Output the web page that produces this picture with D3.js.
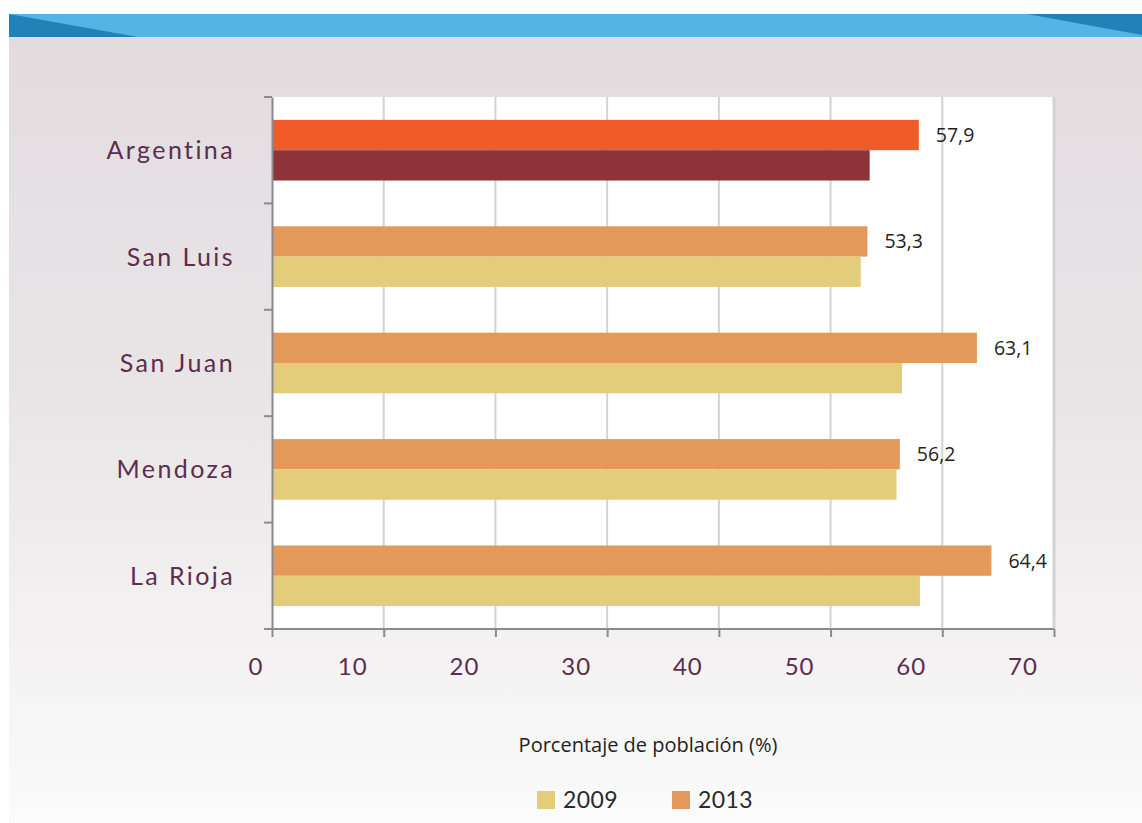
<!DOCTYPE html>
<html lang="es">
<head>
<meta charset="utf-8">
<title>Porcentaje de población</title>
<script src="https://cdn.jsdelivr.net/npm/d3@7"></script>
<style>
  html, body { margin: 0; padding: 0; background: #ffffff; }
  svg { display: block; }
</style>
</head>
<body>
<svg id="chart" width="1142" height="823"></svg>
<script>
// Data
const categories = ["Argentina", "San Luis", "San Juan", "Mendoza", "La Rioja"];
const series = ["2013", "2009"];
const values2013 = [57.9, 53.3, 63.1, 56.2, 64.4];
const values2009 = [53.5, 52.7, 56.4, 55.9, 58.0];
const xTicks = [0, 10, 20, 30, 40, 50, 60, 70];
const axisTitle = "Porcentaje de población (%)";
const legendItems = ["2009", "2013"];

const rows = categories.map((c, i) => ({
  category: c,
  values: { "2013": values2013[i], "2009": values2009[i] }
}));

const colors = {
  national: { "2013": "#f15a29", "2009": "#8e3337" },
  province: { "2013": "#e2995a", "2009": "#e3cc7a" }
};

const svg = d3.select("#chart");
const W = 1142, H = 823;

// Background panel with soft vertical gradient
const defs = svg.append("defs");
const grad = defs.append("linearGradient").attr("id", "panelGrad")
  .attr("x1", 0).attr("y1", 0).attr("x2", 0).attr("y2", 1);
grad.append("stop").attr("offset", "0%").attr("stop-color", "#e2dcdf");
grad.append("stop").attr("offset", "45%").attr("stop-color", "#e9e5e7");
grad.append("stop").attr("offset", "100%").attr("stop-color", "#fbfbfb");

svg.append("rect").attr("x", 9).attr("y", 37).attr("width", W - 9).attr("height", H - 37)
  .attr("fill", "url(#panelGrad)");

// Header band
svg.append("rect").attr("x", 9).attr("y", 14).attr("width", W - 9).attr("height", 23).attr("fill", "#52b5e6");
svg.append("path").attr("d", "M9,14 L138,37 L9,37 Z").attr("fill", "#2282b8");
svg.append("path").attr("d", `M1027,14 L${W},14 L${W},35 Z`).attr("fill", "#2282b8");

// Plot area
const plot = { left: 272, right: 1054, top: 97, bottom: 629 };

const x = d3.scaleLinear().domain([0, 70]).range([plot.left, plot.right]);
const y = d3.scaleBand().domain(categories).range([plot.top, plot.bottom]).padding(0);
const ySub = d3.scaleBand().domain(series)
  .range([y.bandwidth() * 0.215, y.bandwidth() * 0.785]).padding(0);

svg.append("rect")
  .attr("x", plot.left).attr("y", plot.top)
  .attr("width", plot.right - plot.left).attr("height", plot.bottom - plot.top)
  .attr("fill", "#ffffff");

// Vertical gridlines
svg.append("g").selectAll("line").data(xTicks.filter(t => t > 0)).join("line")
  .attr("x1", d => x(d)).attr("x2", d => x(d))
  .attr("y1", plot.top).attr("y2", plot.bottom)
  .attr("stroke", "#d3d3d6").attr("stroke-width", d => d === 70 ? 3 : 2);

// Bars
const groups = svg.append("g").selectAll("g").data(rows).join("g")
  .attr("transform", d => `translate(0,${y(d.category)})`);

groups.selectAll("rect").data(d => series.map(s => ({
  s, v: d.values[s], national: d.category === "Argentina"
}))).join("rect")
  .attr("x", x(0))
  .attr("y", d => ySub(d.s))
  .attr("width", d => x(d.v) - x(0))
  .attr("height", ySub.bandwidth())
  .attr("fill", d => (d.national ? colors.national : colors.province)[d.s]);

// Value labels for 2013
groups.append("text")
  .attr("x", d => x(d.values["2013"]) + 17)
  .attr("y", ySub("2013") + ySub.bandwidth() / 2)
  .attr("dy", "0.36em")
  .attr("font-family", "'Open Sans', 'Liberation Sans', sans-serif")
  .attr("font-size", 19.5)
  .attr("fill", "#231f20")
  .text(d => d3.format(".1f")(d.values["2013"]).replace(".", ","));

// Left axis
const yAxis = d3.axisLeft(y).tickSize(0).tickFormat("");
const gy = svg.append("g").attr("transform", `translate(${plot.left},0)`).call(yAxis);
gy.select(".domain").attr("stroke", "#8a8a90").attr("stroke-width", 2);
const boundaries = categories.map(c => y(c)).concat([plot.bottom]);
gy.selectAll(".bnd").data(boundaries).join("line").attr("class", "bnd")
  .attr("x1", -8).attr("x2", 0).attr("y1", d => d).attr("y2", d => d)
  .attr("stroke", "#8a8a90").attr("stroke-width", 2);

// Category labels
svg.append("g").selectAll("text").data(categories).join("text")
  .attr("x", 235)
  .attr("y", d => y(d) + y.bandwidth() / 2)
  .attr("dy", "0.36em")
  .attr("text-anchor", "end")
  .attr("font-family", "Lato, 'Noto Sans', sans-serif")
  .attr("font-weight", 400)
  .attr("font-size", 25)
  .attr("letter-spacing", "2.4px")
  .attr("fill", "#5b2d4f")
  .text(d => d);

// Bottom axis
const xAxis = d3.axisBottom(x).tickValues(xTicks).tickSize(8).tickFormat("");
const gx = svg.append("g").attr("transform", `translate(0,${plot.bottom})`).call(xAxis);
gx.select(".domain").attr("d", `M${plot.left - 8},0H${plot.right}`)
  .attr("stroke", "#8a8a90").attr("stroke-width", 2);
gx.selectAll(".tick line").attr("stroke", "#8a8a90").attr("stroke-width", 2);

svg.append("g").selectAll("text").data(xTicks).join("text")
  .attr("x", d => x(d) + (d === 0 ? -16 : -31))
  .attr("y", 675)
  .attr("text-anchor", "middle")
  .attr("font-family", "Lato, 'Noto Sans', sans-serif")
  .attr("font-weight", 400)
  .attr("font-size", 24)
  .attr("letter-spacing", "1px")
  .attr("fill", "#5b2d4f")
  .text(d => d);

// Axis title
svg.append("text")
  .attr("x", 648).attr("y", 752)
  .attr("text-anchor", "middle")
  .attr("font-family", "'Open Sans', 'Liberation Sans', sans-serif")
  .attr("font-size", 20)
  .attr("fill", "#231f20")
  .text(axisTitle);

// Legend
const legendX = { "2009": 537, "2013": 672 };
const legend = svg.append("g").selectAll("g").data(legendItems).join("g")
  .attr("transform", d => `translate(${legendX[d]},791)`);
legend.append("rect").attr("width", 18).attr("height", 18)
  .attr("fill", d => colors.province[d]);
legend.append("text")
  .attr("x", 26).attr("y", 16.5)
  .attr("font-family", "Lato, 'Noto Sans', sans-serif")
  .attr("font-weight", 400)
  .attr("font-size", 23)
  .attr("letter-spacing", "0.4px")
  .attr("fill", "#2a2a2a")
  .text(d => d);
</script>
</body>
</html>
